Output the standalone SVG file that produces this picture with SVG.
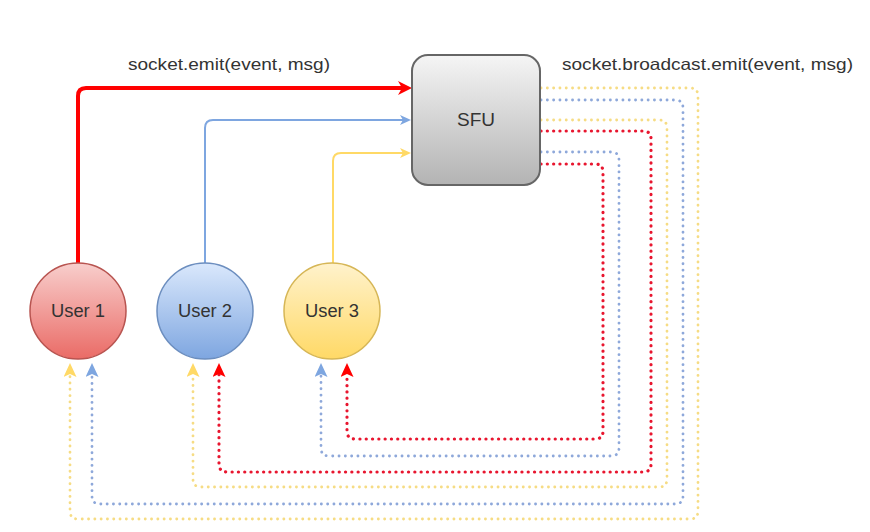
<svg xmlns="http://www.w3.org/2000/svg" width="870" height="532" viewBox="0 0 870 532">
<style>
text{font-family:"Liberation Sans",Arial,sans-serif;fill:#333}
.lbl{font-size:16.5px}
.nt{font-size:17.5px;text-anchor:middle}
.solid{fill:none}
.dot{fill:none;stroke-linecap:round}
.r{stroke:#e8162f;stroke-width:3.2;stroke-dasharray:0.1 6.2}
.b{stroke:#8ea8da;stroke-width:2.8;stroke-dasharray:0.1 6.2}
.y{stroke:#f6dc84;stroke-width:2.8;stroke-dasharray:0.1 6.2}
</style>
<defs>
<linearGradient id="gS" x1="0" y1="0" x2="0" y2="1"><stop offset="0" stop-color="#f5f5f5"/><stop offset="1" stop-color="#b3b3b3"/></linearGradient>
<linearGradient id="g1" x1="0" y1="0" x2="0" y2="1"><stop offset="0" stop-color="#f8cecc"/><stop offset="1" stop-color="#ea6b66"/></linearGradient>
<linearGradient id="g2" x1="0" y1="0" x2="0" y2="1"><stop offset="0" stop-color="#dae8fc"/><stop offset="1" stop-color="#7ea6e0"/></linearGradient>
<linearGradient id="g3" x1="0" y1="0" x2="0" y2="1"><stop offset="0" stop-color="#fff2cc"/><stop offset="1" stop-color="#ffd966"/></linearGradient>
<marker id="aR" markerUnits="userSpaceOnUse" markerWidth="16" markerHeight="16" refX="5" refY="7" orient="auto"><path d="M0,0 L14,7 L0,14 L4,7 Z" fill="#ff0000"/></marker>
<marker id="aB" markerUnits="userSpaceOnUse" markerWidth="12" markerHeight="12" refX="4" refY="5" orient="auto"><path d="M0,0 L11,5 L0,10 L3,5 Z" fill="#7ea6e0"/></marker>
<marker id="aY" markerUnits="userSpaceOnUse" markerWidth="12" markerHeight="12" refX="4" refY="5" orient="auto"><path d="M0,0 L11,5 L0,10 L3,5 Z" fill="#ffd966"/></marker>
<marker id="dR" markerUnits="userSpaceOnUse" markerWidth="16" markerHeight="16" refX="3" refY="6.5" orient="auto"><path d="M0,0 L14,6.5 L0,13 L3,6.5 Z" fill="#ff0000"/></marker>
<marker id="dB" markerUnits="userSpaceOnUse" markerWidth="16" markerHeight="16" refX="3" refY="6.5" orient="auto"><path d="M0,0 L14,6.5 L0,13 L3,6.5 Z" fill="#7ea6e0"/></marker>
<marker id="dY" markerUnits="userSpaceOnUse" markerWidth="16" markerHeight="16" refX="3" refY="6.5" orient="auto"><path d="M0,0 L14,6.5 L0,13 L3,6.5 Z" fill="#ffd966"/></marker>
</defs>
<rect width="870" height="532" fill="#ffffff"/>
<g id="connectors">
<path class="solid" d="M78,263 V96 Q78,88 86,88 H403" stroke="#ff0000" stroke-width="4" marker-end="url(#aR)"/>
<path class="solid" d="M205,263 V128 Q205,120 213,120 H404" stroke="#7ea6e0" stroke-width="2" marker-end="url(#aB)"/>
<path class="solid" d="M333,263 V161 Q333,153 341,153 H404" stroke="#ffd966" stroke-width="2" marker-end="url(#aY)"/>
<path class="dot y" d="M541,88 H690 Q698,88 698,96 V511 Q698,519 690,519 H78 Q70,519 70,511 V374" marker-end="url(#dY)"/>
<path class="dot b" d="M541,100 H675 Q683,100 683,108 V496 Q683,504 675,504 H100 Q92,504 92,496 V374" marker-end="url(#dB)"/>
<path class="dot y" d="M541,120 H659 Q667,120 667,128 V479 Q667,487 659,487 H201 Q193,487 193,479 V374" marker-end="url(#dY)"/>
<path class="dot r" d="M541,131 H643 Q651,131 651,139 V464 Q651,472 643,472 H227 Q219,472 219,464 V374" marker-end="url(#dR)"/>
<path class="dot b" d="M541,152 H611 Q619,152 619,160 V448 Q619,456 611,456 H329 Q321,456 321,448 V374" marker-end="url(#dB)"/>
<path class="dot r" d="M541,164 H595 Q603,164 603,172 V431 Q603,439 595,439 H355 Q347,439 347,431 V374" marker-end="url(#dR)"/>
</g>
<g id="label-emit"><text class="lbl" x="128" y="70" textLength="202" lengthAdjust="spacingAndGlyphs">socket.emit(event, msg)</text></g>
<g id="label-broadcast"><text class="lbl" x="562" y="70" textLength="291" lengthAdjust="spacingAndGlyphs">socket.broadcast.emit(event, msg)</text></g>
<g id="sfu">
<rect x="412" y="55" width="128" height="130" rx="16" fill="url(#gS)" stroke="#666666" stroke-width="2"/>
<text class="nt" x="476" y="126" textLength="38" lengthAdjust="spacingAndGlyphs">SFU</text>
</g>
<g id="user1">
<circle cx="78" cy="311" r="48" fill="url(#g1)" stroke="#b85450" stroke-width="1.5"/>
<text class="nt" x="78" y="317" textLength="54" lengthAdjust="spacingAndGlyphs">User 1</text>
</g>
<g id="user2">
<circle cx="205" cy="311" r="48" fill="url(#g2)" stroke="#6c8ebf" stroke-width="1.5"/>
<text class="nt" x="205" y="317" textLength="54" lengthAdjust="spacingAndGlyphs">User 2</text>
</g>
<g id="user3">
<circle cx="332" cy="311" r="48" fill="url(#g3)" stroke="#d6b656" stroke-width="1.5"/>
<text class="nt" x="332" y="317" textLength="54" lengthAdjust="spacingAndGlyphs">User 3</text>
</g>
</svg>
